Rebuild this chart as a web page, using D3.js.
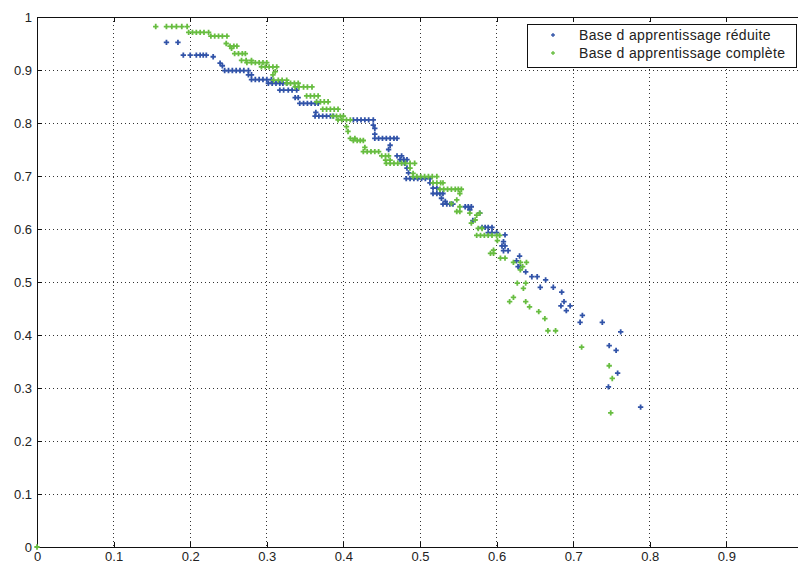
<!DOCTYPE html>
<html><head><meta charset="utf-8">
<script src="https://cdn.jsdelivr.net/npm/d3@7"></script>
<style>body{margin:0;background:#fff}svg{display:block}text{font-family:"Liberation Sans",Arial,sans-serif}</style>
</head><body><svg id="c" width="798" height="564"></svg>
<script>
const xTicks = [0,0.1,0.2,0.3,0.4,0.5,0.6,0.7,0.8,0.9];
const yTicks = [0,0.1,0.2,0.3,0.4,0.5,0.6,0.7,0.8,0.9,1];
const seriesNames = ["Base d apprentissage réduite","Base d apprentissage complète"];
const seriesColors = ["#3153a8","#67bd40"];
// rows: [y, [x values]]
const reducedRows = [
[0.952,[0.169,0.184]],
[0.928,[0.191,0.200,0.208,0.213,0.217,0.221]],
[0.925,[0.230]],[0.913,[0.239]],[0.908,[0.242]],
[0.899,[0.245,0.250,0.255,0.260,0.265,0.270,0.276]],
[0.891,[0.276,0.280]],
[0.882,[0.280,0.285,0.290,0.295,0.300,0.306]],
[0.875,[0.302,0.307,0.312,0.317,0.321,0.326]],
[0.862,[0.317,0.322,0.328,0.333,0.339]],
[0.848,[0.337,0.341]],
[0.837,[0.343,0.348,0.353,0.358,0.363,0.367]],
[0.820,[0.364]],
[0.813,[0.363,0.368,0.373,0.378,0.383,0.387]],
[0.806,[0.413,0.418,0.423,0.428,0.433,0.439]],
[0.796,[0.439]],[0.790,[0.441]],[0.779,[0.441]],
[0.771,[0.441,0.446,0.451,0.456,0.461,0.466,0.470]],
[0.758,[0.461]],[0.750,[0.459]],
[0.738,[0.470,0.476]],[0.731,[0.474,0.479,0.483]],[0.724,[0.480]],
[0.715,[0.483]],[0.706,[0.485]],
[0.695,[0.482,0.487,0.492,0.497,0.502,0.507,0.513]],
[0.687,[0.513]],[0.677,[0.517,0.522]],
[0.667,[0.517,0.522,0.526,0.530]],
[0.658,[0.528]],[0.652,[0.533]],
[0.647,[0.530,0.535,0.539,0.543]],
[0.642,[0.559,0.563,0.567]],[0.636,[0.565]],[0.630,[0.578]],[0.616,[0.569]],
[0.603,[0.581,0.585,0.589,0.594]],
[0.593,[0.589,0.594,0.600]],[0.589,[0.611]],[0.576,[0.609]],
[0.568,[0.607,0.611]],[0.559,[0.609,0.615]],[0.549,[0.630]],[0.540,[0.626]],
[0.529,[0.628,0.631]],[0.519,[0.638]],[0.510,[0.646,0.653]],[0.504,[0.664]],
[0.490,[0.657,0.674]],[0.481,[0.685]],[0.463,[0.688]],[0.455,[0.684,0.696]],
[0.446,[0.691]],[0.437,[0.712]],[0.424,[0.709,0.738]],[0.406,[0.762]],
[0.380,[0.747]],[0.371,[0.756]],[0.328,[0.758]],[0.302,[0.746]],[0.264,[0.788]]
];
const completeRows = [
[0,[0]],
[0.982,[0.155,0.169,0.176,0.182,0.189,0.196]],
[0.971,[0.198,0.203,0.208,0.213,0.218,0.224]],
[0.964,[0.227,0.232,0.237,0.242,0.248]],
[0.950,[0.247]],[0.945,[0.252,0.257,0.261]],[0.941,[0.254]],
[0.931,[0.258,0.263,0.268,0.272]],
[0.918,[0.267,0.273,0.280]],
[0.914,[0.274,0.280,0.285,0.290,0.295,0.300]],
[0.906,[0.293,0.298,0.303,0.308,0.313]],
[0.897,[0.311]],[0.891,[0.308]],
[0.881,[0.309,0.315,0.320,0.326]],
[0.875,[0.326,0.331,0.336,0.341]],
[0.868,[0.337,0.342,0.348,0.353,0.359]],
[0.851,[0.352,0.357,0.362,0.367]],
[0.840,[0.365,0.370,0.375,0.380]],
[0.826,[0.373,0.378,0.383,0.388,0.393]],
[0.813,[0.386,0.391,0.396,0.400]],
[0.806,[0.393,0.398,0.404,0.409]],
[0.793,[0.404]],[0.784,[0.406]],[0.771,[0.409,0.415]],
[0.767,[0.413,0.418,0.422,0.426]],[0.754,[0.428]],
[0.746,[0.426,0.431,0.436,0.441,0.446]],
[0.738,[0.450,0.455,0.459]],[0.730,[0.455,0.461]],
[0.724,[0.456,0.461,0.466,0.471,0.476,0.481,0.487,0.493]],
[0.715,[0.487]],[0.705,[0.491]],
[0.699,[0.491,0.496,0.501,0.506,0.511,0.516,0.522]],
[0.687,[0.517,0.522,0.527,0.530]],
[0.675,[0.526,0.531,0.536,0.541,0.546,0.550,0.554]],
[0.667,[0.552]],[0.655,[0.548]],[0.648,[0.541]],[0.642,[0.552]],
[0.633,[0.548,0.552]],[0.630,[0.565,0.578]],[0.626,[0.574]],[0.617,[0.572]],
[0.611,[0.567]],[0.601,[0.576,0.581]],
[0.588,[0.574,0.579,0.584,0.589,0.594,0.600,0.604]],
[0.578,[0.601]],[0.560,[0.596]],[0.554,[0.592,0.596]],[0.545,[0.605,0.611]],
[0.537,[0.622,0.631,0.639]],[0.529,[0.634]],[0.523,[0.631]],
[0.498,[0.627,0.638]],[0.488,[0.635]],[0.471,[0.622]],[0.463,[0.617,0.638]],
[0.453,[0.643]],[0.444,[0.655]],[0.431,[0.663]],[0.408,[0.667,0.677]],
[0.377,[0.711]],[0.342,[0.747]],[0.318,[0.751]],[0.253,[0.749]]
];

const flat = rows => rows.flatMap(([y,xs]) => xs.map(x => ({x,y})));
const series = [flat(reducedRows), flat(completeRows)];

const svg = d3.select("#c");
const L=37, R=803, T=17, B=547;
const x = d3.scaleLinear().domain([0,1]).range([L,R]);
const y = d3.scaleLinear().domain([0,1]).range([B,T]);

// grid
const g = svg.append("g");
g.selectAll(".gx").data(xTicks.filter(d=>d>0)).join("line")
 .attr("x1",d=>x(d)).attr("x2",d=>x(d)).attr("y1",T).attr("y2",B)
 .attr("stroke","#333").attr("stroke-width",1).attr("stroke-dasharray","1,3").attr("shape-rendering","crispEdges");
g.selectAll(".gy").data(yTicks.filter(d=>d>0&&d<1)).join("line")
 .attr("x1",L).attr("x2",R).attr("y1",d=>y(d)).attr("y2",d=>y(d))
 .attr("stroke","#333").attr("stroke-width",1).attr("stroke-dasharray","1,3").attr("shape-rendering","crispEdges");

// axes
const ax = svg.append("g").attr("transform",`translate(0,${B})`)
 .call(d3.axisBottom(x).tickValues(xTicks).tickSize(-5).tickPadding(5).tickFormat(d=>d===0?"0":d3.format(".1f")(d)));
const axT = svg.append("g").attr("transform",`translate(0,${T})`)
 .call(d3.axisTop(x).tickValues(xTicks).tickSize(-5).tickFormat(""));
const ay = svg.append("g").attr("transform",`translate(${L},0)`)
 .call(d3.axisLeft(y).tickValues(yTicks).tickSize(-5).tickPadding(5).tickFormat(d=>d===0?"0":(d===1?"1":d3.format(".1f")(d))));
const ayR = svg.append("g").attr("transform",`translate(${R},0)`)
 .call(d3.axisRight(y).tickValues(yTicks).tickSize(-5).tickFormat(""));
[ax,axT,ay,ayR].forEach(a=>{
  a.select(".domain").attr("stroke","#111").attr("shape-rendering","crispEdges");
  a.selectAll(".tick line").attr("stroke","#111").attr("shape-rendering","crispEdges");
  a.selectAll("text").attr("font-size","13px").attr("fill","#222").attr("font-family","'Liberation Sans',Arial,sans-serif");
});

// points
const sym = d3.symbol().type(d3.symbolCross).size(16);
series.forEach((pts,i)=>{
  svg.append("g").selectAll("path").data(pts).join("path")
   .attr("transform",d=>`translate(${x(d.x)},${y(d.y)})`)
   .attr("d",sym).attr("fill",seriesColors[i]);
});

// legend
const lg = svg.append("g");
lg.append("rect").attr("x",527.5).attr("y",24.5).attr("width",269).attr("height",43)
 .attr("fill","#fff").attr("stroke","#111");
const ls = d3.symbol().type(d3.symbolCross).size(8);
seriesNames.forEach((n,i)=>{
  const yy = 35 + i*18;
  lg.append("path").attr("transform",`translate(553,${yy})`).attr("d",ls).attr("fill",seriesColors[i]);
  lg.append("text").attr("x",579).attr("y",yy).attr("dy","0.36em").attr("font-size","14px")
   .attr("letter-spacing","0.35px").attr("fill","#222").text(n);
});
</script></body></html>
